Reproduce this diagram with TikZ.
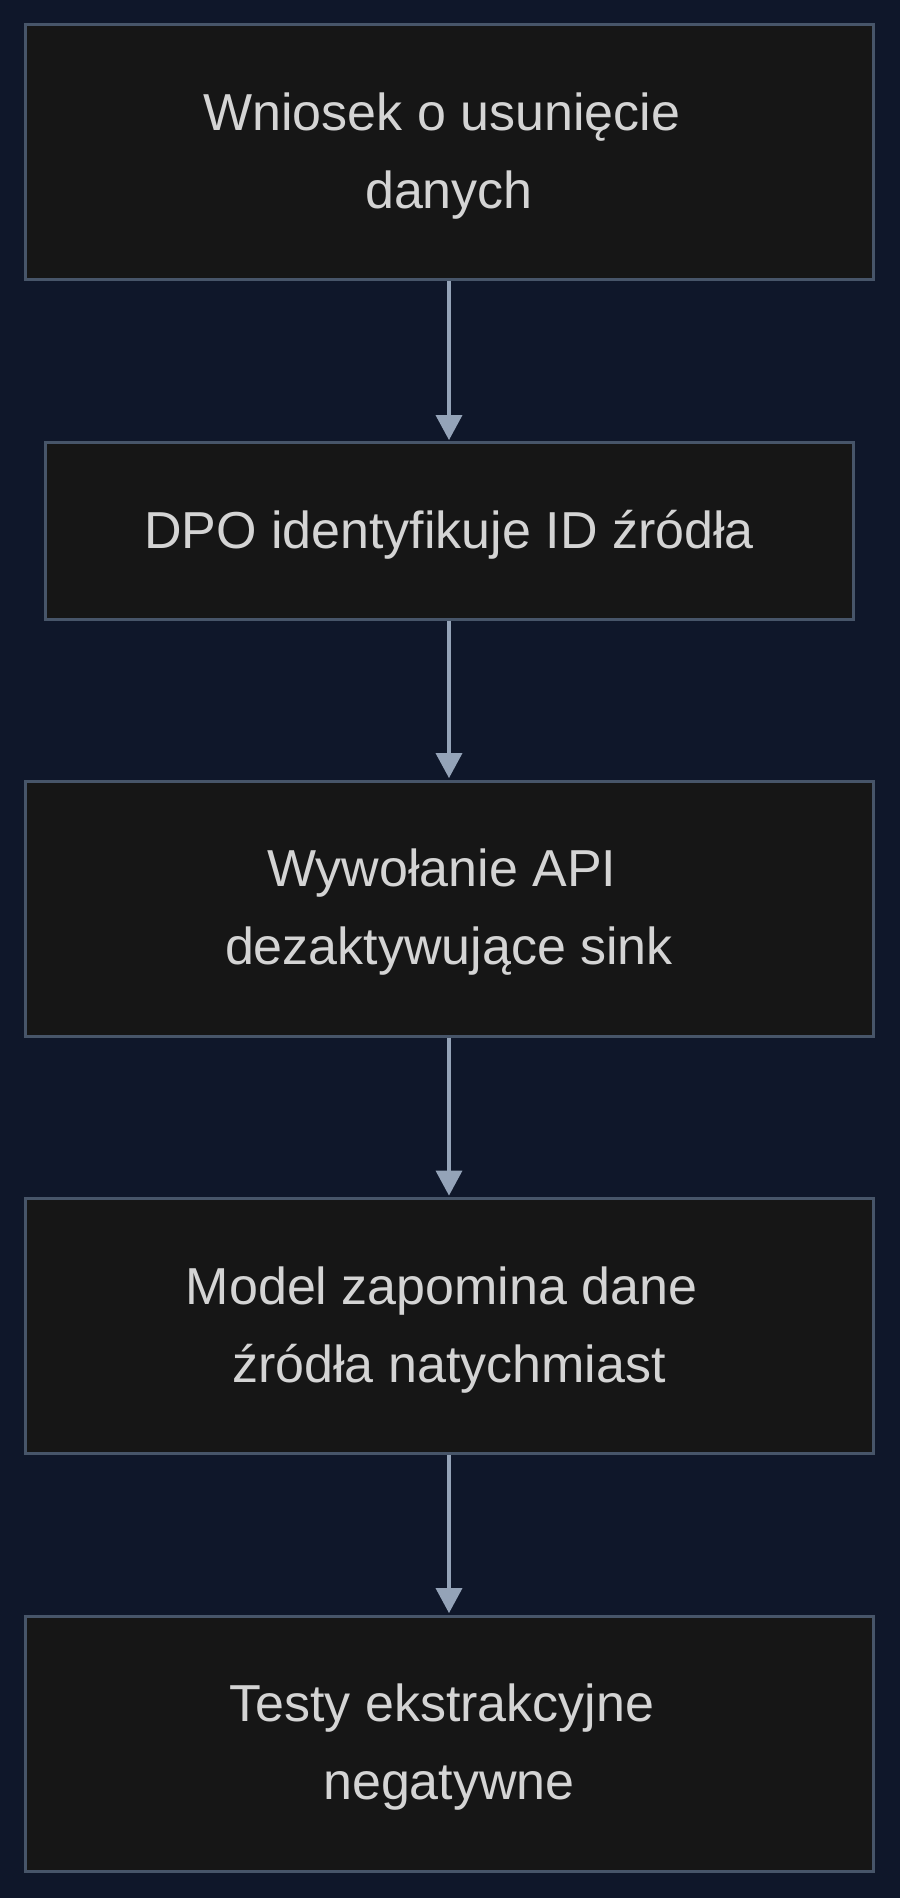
\documentclass[tikz,border=0pt]{standalone}
\usepackage{fontspec}
\setmainfont{Liberation Sans}
\usetikzlibrary{arrows.meta}
\definecolor{bgc}{HTML}{0F172A}
\definecolor{boxc}{HTML}{161616}
\definecolor{edgec}{HTML}{475569}
\definecolor{arrc}{HTML}{94A3B8}
\definecolor{txtc}{HTML}{D4D4D4}
\newcommand{\tsp}{\kern.278em}
\tikzset{
  >={Triangle[length=12.5pt,width=13pt]},
  st/.style={rectangle,draw=edgec,fill=boxc,line width=1.5pt,
    minimum width=424pt,minimum height=127.5pt,inner sep=0pt},
  txt/.style={align=center,text=txtc,inner sep=0pt,yshift=-1.8pt,
    font=\fontsize{26}{39}\selectfont},
  ar/.style={->,draw=arrc,line width=1.8pt,shorten >=0.7pt},
}
\begin{document}
\begin{tikzpicture}[x=1pt,y=1pt]
\fill[bgc] (0,0) rectangle (450,-949);
\useasboundingbox (0,0) rectangle (450,-949);
\node[st,label={[txt]center:{Wniosek o usunięcie\tsp\\danych}}] (wniosek) at (224.5,-76.25) {};
\node[st,minimum width=404pt,minimum height=88pt,label={[txt]center:{DPO identyfikuje ID źródła}}] (dpo) at (224.5,-265.5) {};
\node[st,label={[txt]center:{Wywołanie API\tsp\\dezaktywujące sink}}] (api) at (224.5,-454.25) {};
\node[st,label={[txt]center:{Model zapomina dane\tsp\\źródła natychmiast}}] (model) at (224.5,-663) {};
\node[st,label={[txt]center:{Testy ekstrakcyjne\tsp\\negatywne}}] (testy) at (224.5,-871.75) {};
\draw[ar] (wniosek.south) -- (dpo.north);
\draw[ar] (dpo.south) -- (api.north);
\draw[ar] (api.south) -- (model.north);
\draw[ar] (model.south) -- (testy.north);
\end{tikzpicture}
\end{document}
